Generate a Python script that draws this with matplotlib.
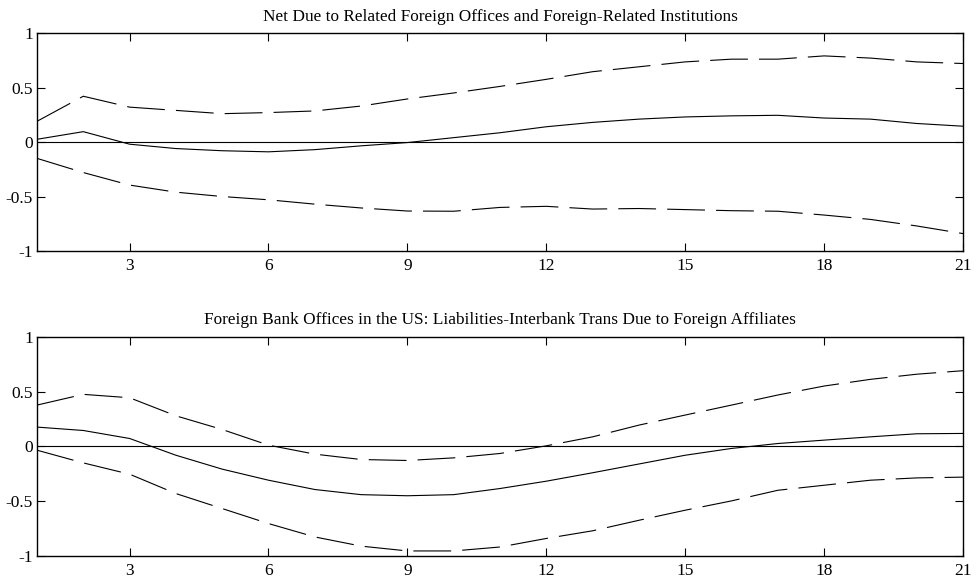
import matplotlib
matplotlib.use('Agg')
import matplotlib.pyplot as plt
import numpy as np

plt.rcParams['font.family'] = ['Liberation Serif', 'DejaVu Serif']
plt.rcParams['axes.unicode_minus'] = False

horizon = list(range(1, 22))

# impulse responses with error bands
title_top = "Net Due to Related Foreign Offices and Foreign-Related Institutions"
irf_top = [0.025, 0.095, -0.02, -0.06, -0.08, -0.09, -0.07, -0.035, -0.005, 0.04,
           0.085, 0.14, 0.18, 0.21, 0.23, 0.24, 0.245, 0.22, 0.21, 0.17, 0.145]
upper_top = [0.19, 0.42, 0.32, 0.29, 0.26, 0.27, 0.285, 0.33, 0.395, 0.45,
             0.51, 0.575, 0.645, 0.69, 0.735, 0.76, 0.76, 0.79, 0.77, 0.735, 0.72]
lower_top = [-0.15, -0.28, -0.395, -0.46, -0.5, -0.53, -0.57, -0.605, -0.633, -0.635,
             -0.60, -0.59, -0.615, -0.61, -0.62, -0.63, -0.635, -0.67, -0.71, -0.77, -0.84]

title_bot = "Foreign Bank Offices in the US: Liabilities-Interbank Trans Due to Foreign Affiliates"
irf_bot = [0.177, 0.146, 0.073, -0.08, -0.207, -0.308, -0.393, -0.44, -0.45, -0.44,
           -0.384, -0.317, -0.24, -0.16, -0.08, -0.018, 0.027, 0.058, 0.088, 0.116, 0.119]
upper_bot = [0.378, 0.476, 0.445, 0.28, 0.155, 0.012, -0.07, -0.119, -0.128, -0.104,
             -0.064, 0.006, 0.088, 0.195, 0.287, 0.378, 0.47, 0.552, 0.613, 0.66, 0.692]
lower_bot = [-0.034, -0.15, -0.253, -0.43, -0.567, -0.704, -0.826, -0.91, -0.954, -0.954,
             -0.918, -0.84, -0.77, -0.674, -0.582, -0.497, -0.4, -0.354, -0.308, -0.287, -0.28]

xticks = [3, 6, 9, 12, 15, 18, 21]
yticks = [-1, -0.5, 0, 0.5, 1]
ytick_labels = ['-1', '-0.5', '0', '0.5', '1']

fig = plt.figure(figsize=(9.76, 5.78), dpi=100)
ax1 = fig.add_axes([0.0379, 0.5657, 0.9488, 0.3772])
ax2 = fig.add_axes([0.0379, 0.0381, 0.9488, 0.3789])

panels = [(ax1, title_top, irf_top, upper_top, lower_top),
          (ax2, title_bot, irf_bot, upper_bot, lower_bot)]

for ax, title, irf, up, lo in panels:
    ax.axhline(0, color='black', lw=0.8)
    ax.plot(horizon, irf, color='black', lw=0.8)
    ax.plot(horizon, up, color='black', lw=0.8, dashes=(34, 10))
    ax.plot(horizon, lo, color='black', lw=0.8, dashes=(34, 10))
    ax.set_xlim(1, 21)
    ax.set_ylim(-1, 1)
    ax.set_xticks(xticks)
    ax.set_yticks(yticks)
    ax.set_yticklabels(ytick_labels)
    ax.tick_params(direction='in', length=6, width=0.8, top=True, right=True,
                   labelsize=12.5, pad=3)
    ax.tick_params(axis='x', pad=5)
    for s in ax.spines.values():
        s.set_linewidth(1.0)
    ax.set_title(title, fontsize=12.4, pad=9)

fig.savefig('out.png', dpi=100)
